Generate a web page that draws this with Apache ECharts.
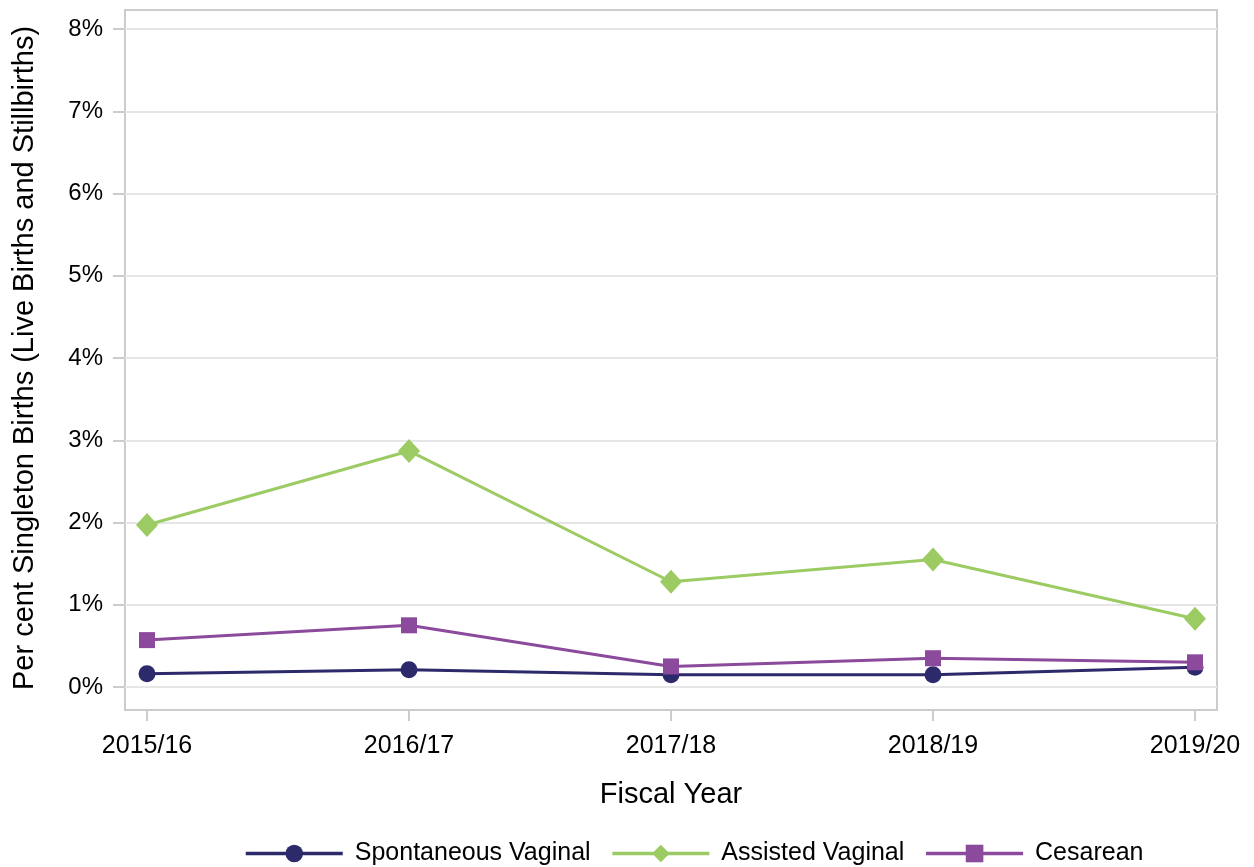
<!DOCTYPE html>
<html>
<head>
<meta charset="utf-8">
<script src="https://cdn.jsdelivr.net/npm/echarts@6/dist/echarts.min.js"></script>
<style>html,body{margin:0;padding:0;background:#fff}#c{width:1254px;height:867px}</style>
</head>
<body>
<div id="c"></div>
<script>
const categories = ['2015/16', '2016/17', '2017/18', '2018/19', '2019/20'];
const spontaneous = [0.16, 0.21, 0.15, 0.15, 0.24];
const assisted = [1.97, 2.87, 1.28, 1.55, 0.83];
const cesarean = [0.57, 0.75, 0.25, 0.35, 0.30];
const yTicks = [0, 1, 2, 3, 4, 5, 6, 7, 8];
const tickIdx = categories.map((c, i) => i);

const FONT = '"Liberation Sans", Arial, sans-serif';
const pts = arr => arr.map((v, i) => [i, v]);

const chart = echarts.init(document.getElementById('c'), null, {renderer: 'canvas'});
chart.setOption({
  animation: false,
  backgroundColor: '#ffffff',
  textStyle: {fontFamily: FONT, color: '#000'},
  grid: [
    {left: 125, right: 37, top: 29, bottom: 180, show: false},
    {left: 125, right: 37, top: 10, bottom: 157, show: true, borderColor: '#cccccc', borderWidth: 2, backgroundColor: 'transparent'}
  ],
  xAxis: [
    {
      type: 'value', gridIndex: 0, min: -0.084, max: 4.084,
      offset: 23,
      name: 'Fiscal Year', nameLocation: 'middle', nameGap: 70,
      nameTextStyle: {fontSize: 29, fontFamily: FONT, color: '#000'},
      axisLine: {show: false, onZero: false},
      axisTick: {show: true, customValues: tickIdx, length: 11, lineStyle: {color: '#cccccc', width: 2}},
      axisLabel: {customValues: tickIdx, formatter: v => categories[Math.round(v)], fontSize: 25, margin: 24, color: '#000', fontFamily: FONT},
      splitLine: {show: false}
    },
    {type: 'value', gridIndex: 1, show: false, min: 0, max: 1}
  ],
  yAxis: [
    {
      type: 'value', gridIndex: 0, min: 0, max: 8, interval: 1,
      name: 'Per cent Singleton Births (Live Births and Stillbirths)',
      nameLocation: 'middle', nameGap: 86,
      nameTextStyle: {fontSize: 29, fontFamily: FONT, color: '#000'},
      axisLine: {show: false, onZero: false},
      axisTick: {show: true, length: 12, lineStyle: {color: '#cccccc', width: 2}},
      axisLabel: {formatter: v => yTicks.includes(v) ? v + '%' : '', fontSize: 24, margin: 22, color: '#000', fontFamily: FONT},
      splitLine: {show: true, lineStyle: {color: '#e6e6e6', width: 2}}
    },
    {type: 'value', gridIndex: 1, show: false, min: 0, max: 1}
  ],
  legend: {
    left: 239, top: 836,
    itemWidth: 97, itemHeight: 22, itemGap: 20,
    lineStyle: {width: 3.5},
    textStyle: {fontSize: 25, fontFamily: FONT, color: '#000', padding: [0, 0, 0, 7]},
    data: ['Spontaneous Vaginal', 'Assisted Vaginal', 'Cesarean']
  },
  series: [
    {
      name: 'Spontaneous Vaginal', type: 'line', xAxisIndex: 0, yAxisIndex: 0,
      data: pts(spontaneous), symbol: 'circle', symbolSize: 17,
      lineStyle: {color: '#2c2a6b', width: 3}, itemStyle: {color: '#2c2a6b'}
    },
    {
      name: 'Assisted Vaginal', type: 'line', xAxisIndex: 0, yAxisIndex: 0,
      data: pts(assisted), symbol: 'diamond', symbolSize: [22, 24],
      lineStyle: {color: '#9bcb62', width: 3}, itemStyle: {color: '#9bcb62'}
    },
    {
      name: 'Cesarean', type: 'line', xAxisIndex: 0, yAxisIndex: 0,
      data: pts(cesarean), symbol: 'rect', symbolSize: 16,
      lineStyle: {color: '#8b4a9c', width: 3}, itemStyle: {color: '#8b4a9c'}
    }
  ]
});
</script>
</body>
</html>
